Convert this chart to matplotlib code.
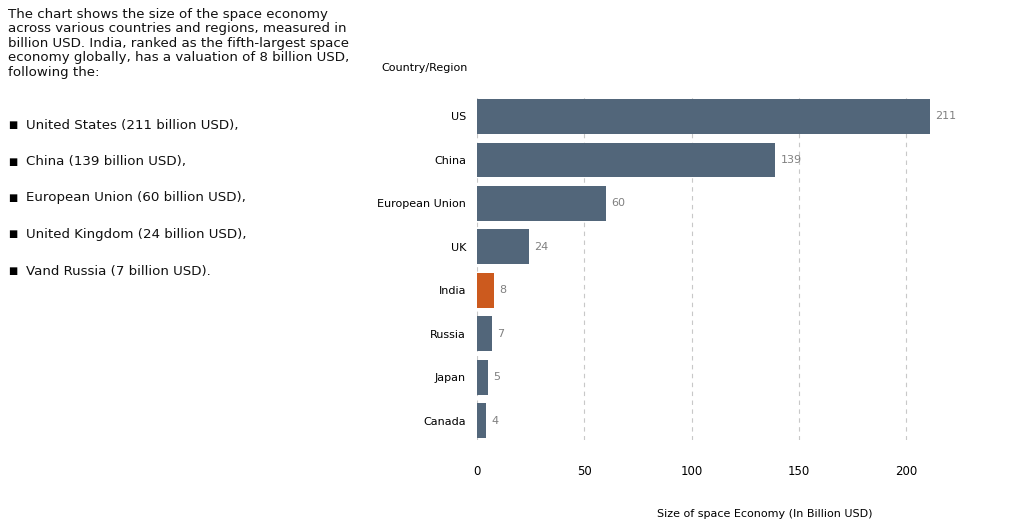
import matplotlib.pyplot as plt

# data
countries = ['US', 'China', 'European Union', 'UK', 'India', 'Russia', 'Japan', 'Canada']
values = [211, 139, 60, 24, 8, 7, 5, 4]
bar_colors = ['#52667a'] * 4 + ['#cc5a1e'] + ['#52667a'] * 3
x_ticks = [0, 50, 100, 150, 200]
bullets = ['United States (211 billion USD),', 'China (139 billion USD),',
           'European Union (60 billion USD),', 'United Kingdom (24 billion USD),',
           'Vand Russia (7 billion USD).']

fig = plt.figure(figsize=(10.24, 5.24), dpi=100)
ax = fig.add_axes([0.466, 0.16, 0.446, 0.655])

ypos = list(range(len(countries)))
ax.barh(ypos, values, color=bar_colors, height=0.8, zorder=3)
for y, v in zip(ypos, values):
    ax.text(v + 2.5, y, str(v), va='center', ha='left', fontsize=8, color='#808080')

ax.set_yticks(ypos)
ax.set_yticklabels(countries, fontsize=8)
ax.set_ylim(len(countries) - 0.55, -0.45)
ax.set_xlim(0, 213)
ax.set_xticks(x_ticks)
ax.tick_params(axis='x', labelsize=8.5, length=0, pad=18)
ax.tick_params(axis='y', length=0, pad=8)
ax.grid(axis='x', linestyle=(0, (4, 4)), color='#c8c8c8', linewidth=0.8, zorder=0)
for s in ax.spines.values():
    s.set_visible(False)
ax.set_xlabel('Size of space Economy (In Billion USD)', fontsize=8)
ax.xaxis.set_label_coords(0.63, -0.2)
ax.text(-0.02, 1.075, 'Country/Region', transform=ax.transAxes, ha='right', fontsize=8)

intro = ('The chart shows the size of the space economy\n'
         'across various countries and regions, measured in\n'
         'billion USD. India, ranked as the fifth-largest space\n'
         'economy globally, has a valuation of 8 billion USD,\n'
         'following the:')
fig.text(0.008, 0.985, intro, ha='left', va='top', fontsize=9.6, linespacing=1.15, color='#111111')
for i, b in enumerate(bullets):
    yy = 1 - (125 + i * 36.5) / 524
    fig.text(0.008, yy, '\u25a0', ha='left', va='center', fontsize=7)
    fig.text(0.025, yy, b, ha='left', va='center', fontsize=9.6, color='#111111')

fig.savefig('out.png', dpi=100)
